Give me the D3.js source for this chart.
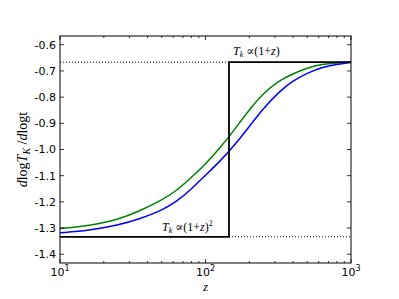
<!DOCTYPE html>
<html>
<head>
<meta charset="utf-8">
<script src="https://cdn.jsdelivr.net/npm/d3@7"></script>
<style>
  body { margin: 0; background: #fff; }
  svg text { font-family: "DejaVu Sans", sans-serif; }
  .math { font-family: "Liberation Serif", "DejaVu Serif", serif; }
</style>
</head>
<body>
<div id="chart"></div>
<script>
'use strict';

// redshift grid
var zValues = [10, 15.8, 25.1, 35.5, 50.1, 63.1, 79.4, 100, 125.9, 158.5, 199.5, 251.2, 316.2, 398.1, 501.2, 631, 794.3, 1000];
var greenValues = [-1.302, -1.291, -1.268, -1.234, -1.193, -1.158, -1.108, -1.056, -0.994, -0.924, -0.848, -0.784, -0.739, -0.711, -0.688, -0.674, -0.669, -0.667];
var blueValues = [-1.318, -1.309, -1.289, -1.265, -1.232, -1.200, -1.153, -1.098, -1.045, -0.983, -0.913, -0.842, -0.782, -0.738, -0.708, -0.686, -0.675, -0.668];

// step function and its asymptotes
var stepZ = [10, 145, 145, 1000];
var stepValues = [-4 / 3, -4 / 3, -2 / 3, -2 / 3];
var dotTopZ = [10, 145];
var dotBottomZ = [145, 1000];

var yTicks = [-0.6, -0.7, -0.8, -0.9, -1.0, -1.1, -1.2, -1.3, -1.4];
var xMajor = [10, 100, 1000];
var xTickExp = ['1', '2', '3'];

var W = 399, H = 299;
var margin = { left: 60, right: 48, top: 36, bottom: 36 };

var svg = d3.select('#chart').append('svg')
	.attr('width', W)
	.attr('height', H);

var x = d3.scaleLog()
	.domain([10, 1000])
	.range([margin.left, W - margin.right]);

var y = d3.scaleLinear()
	.domain([-4 / 3 - 0.1, -2 / 3 + 0.1])
	.range([H - margin.bottom, margin.top]);

var x0 = margin.left, x1 = W - margin.right;
var y0 = margin.top, y1 = H - margin.bottom;

var line = d3.line()
	.x(function(d) { return x(d[0]); })
	.y(function(d) { return y(d[1]); });

var smooth = d3.line()
	.x(function(d) { return x(d[0]); })
	.y(function(d) { return y(d[1]); })
	.curve(d3.curveBasis);

function pairs(xs, ys) {
	return xs.map(function(v, i) { return [v, ys[i]]; });
}

svg.append('clipPath').attr('id', 'clip')
	.append('rect')
	.attr('x', x0).attr('y', y0)
	.attr('width', x1 - x0).attr('height', y1 - y0);

var plot = svg.append('g').attr('clip-path', 'url(#clip)');

// dotted asymptotes
plot.append('path')
	.attr('d', line(pairs(dotTopZ, [-2 / 3, -2 / 3])))
	.attr('fill', 'none')
	.attr('stroke', '#000')
	.attr('stroke-width', 1)
	.attr('stroke-dasharray', '1,2');

plot.append('path')
	.attr('d', line(pairs(dotBottomZ, [-4 / 3, -4 / 3])))
	.attr('fill', 'none')
	.attr('stroke', '#000')
	.attr('stroke-width', 1)
	.attr('stroke-dasharray', '1,2');

plot.append('path')
	.attr('d', smooth(pairs(zValues, greenValues)))
	.attr('fill', 'none')
	.attr('stroke', '#008000')
	.attr('stroke-width', 1.5);

plot.append('path')
	.attr('d', smooth(pairs(zValues, blueValues)))
	.attr('fill', 'none')
	.attr('stroke', '#0000ff')
	.attr('stroke-width', 1.5);

plot.append('path')
	.attr('d', line(pairs(stepZ, stepValues)))
	.attr('fill', 'none')
	.attr('stroke', '#000')
	.attr('stroke-width', 1.8);

// frame
svg.append('rect')
	.attr('x', x0).attr('y', y0)
	.attr('width', x1 - x0).attr('height', y1 - y0)
	.attr('fill', 'none')
	.attr('stroke', '#000')
	.attr('stroke-width', 1);

// ticks pointing inward, all four sides
var minor = [];
[10, 100].forEach(function(b) {
	for (var k = 2; k <= 9; k++) minor.push(b * k);
});

var ticks = svg.append('g').attr('stroke', '#000').attr('stroke-width', 0.8);

xMajor.forEach(function(v) {
	ticks.append('line').attr('x1', x(v)).attr('x2', x(v)).attr('y1', y1).attr('y2', y1 - 4);
	ticks.append('line').attr('x1', x(v)).attr('x2', x(v)).attr('y1', y0).attr('y2', y0 + 4);
});
minor.forEach(function(v) {
	ticks.append('line').attr('x1', x(v)).attr('x2', x(v)).attr('y1', y1).attr('y2', y1 - 2);
	ticks.append('line').attr('x1', x(v)).attr('x2', x(v)).attr('y1', y0).attr('y2', y0 + 2);
});
yTicks.forEach(function(v) {
	ticks.append('line').attr('x1', x0).attr('x2', x0 + 4).attr('y1', y(v)).attr('y2', y(v));
	ticks.append('line').attr('x1', x1).attr('x2', x1 - 4).attr('y1', y(v)).attr('y2', y(v));
});

// tick labels
svg.append('g').selectAll('text')
	.data(yTicks)
	.join('text')
	.attr('x', x0 - 4)
	.attr('y', function(d) { return y(d); })
	.attr('dy', '0.35em')
	.attr('text-anchor', 'end')
	.attr('font-size', 11)
	.text(function(d) { return d.toFixed(1); });

xMajor.forEach(function(v, i) {
	var t = svg.append('text')
		.attr('x', x(v))
		.attr('y', y1 + 13)
		.attr('text-anchor', 'middle')
		.attr('font-size', 11);
	t.append('tspan').text('10');
	t.append('tspan').attr('dy', -5).attr('font-size', 8).text(xTickExp[i]);
});

// axis labels
svg.append('text')
	.attr('class', 'math')
	.attr('x', x(100))
	.attr('y', y1 + 28)
	.attr('text-anchor', 'middle')
	.attr('font-size', 13)
	.attr('font-style', 'italic')
	.text('z');

var yl = svg.append('text')
	.attr('class', 'math')
	.attr('transform', 'translate(27,' + ((y0 + y1) / 2) + ') rotate(-90)')
	.attr('text-anchor', 'middle')
	.attr('font-size', 14);
yl.append('tspan').attr('font-style', 'italic').text('d');
yl.append('tspan').text('log');
yl.append('tspan').attr('font-style', 'italic').text('T');
yl.append('tspan').attr('font-style', 'italic').attr('font-size', 10).attr('dy', 3).text('K');
yl.append('tspan').attr('dy', -3).text(' /');
yl.append('tspan').attr('font-style', 'italic').text('d');
yl.append('tspan').text('logt');

// annotations
var a1 = svg.append('text')
	.attr('class', 'math')
	.attr('x', x(145) + 4)
	.attr('y', y(-2 / 3) - 7)
	.attr('font-size', 12);
a1.append('tspan').attr('font-style', 'italic').text('T');
a1.append('tspan').attr('font-style', 'italic').attr('font-size', 8).attr('dy', 2).text('k');
a1.append('tspan').attr('dy', -2).text(' \u221D(1+');
a1.append('tspan').attr('font-style', 'italic').text('z');
a1.append('tspan').text(')');

var a2 = svg.append('text')
	.attr('class', 'math')
	.attr('x', x(145) - 67)
	.attr('y', y(-4 / 3) - 6)
	.attr('font-size', 12);
a2.append('tspan').attr('font-style', 'italic').text('T');
a2.append('tspan').attr('font-style', 'italic').attr('font-size', 8).attr('dy', 2).text('k');
a2.append('tspan').attr('dy', -2).text(' \u221D(1+');
a2.append('tspan').attr('font-style', 'italic').text('z');
a2.append('tspan').text(')');
a2.append('tspan').attr('font-size', 8).attr('dy', -5).text('2');
</script>
</body>
</html>
